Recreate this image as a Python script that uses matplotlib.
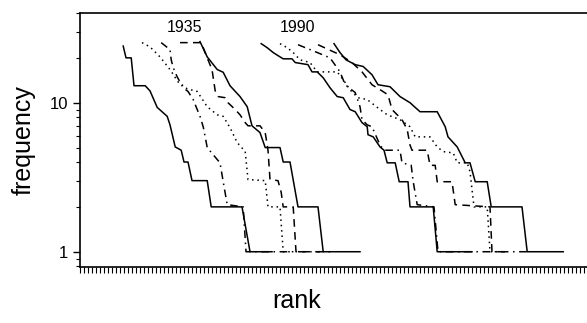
import matplotlib.pyplot as plt
from matplotlib.ticker import MultipleLocator, NullFormatter, NullLocator

plt.rcParams["font.family"] = ["Liberation Sans", "DejaVu Sans"]

# 1935 group: rank vs frequency
rank_35_solid_a = [10.8, 11.5, 12.8, 13.5, 16.3, 17.5, 19.3, 21.8, 22.5, 23.8, 25.3, 26, 27, 28, 31.8, 32.8, 40.5, 42.5, 48]
freq_35_solid_a = [24, 20, 20, 13, 13, 12, 9.3, 8.1, 7.1, 5.05, 4.8, 4, 4, 3, 3, 2, 2, 1, 1]

rank_35_dot = [15.5, 17.5, 20, 22.5, 24.5, 26.8, 29.3, 31.8, 34.3, 35.8, 37.5, 39.3, 41.3, 42, 46.3, 47, 50, 50.8, 52.5]
freq_35_dot = [25.3, 23.7, 20.3, 16.7, 13.8, 12.4, 11.9, 9.4, 8.3, 8.1, 6.8, 5.4, 4.7, 3.05, 3, 2, 2, 1, 1]

rank_35_dashdot = [20.3, 22.5, 22.8, 23.3, 24.3, 25.8, 27, 28.3, 29.3, 30, 30.8, 31.3, 31.8, 35, 35.8, 36.8, 40.8, 41.5, 62.5]
freq_35_dashdot = [25.3, 22.7, 19.4, 17.2, 14.9, 12.6, 11.9, 10.5, 9, 8.1, 6.9, 5.9, 5, 3.95, 2.95, 2.07, 2, 1, 1]

rank_35_dash = [25, 30.3, 32, 33, 33.8, 34.5, 36.3, 37, 38.8, 40, 41.3, 42, 45, 46.3, 47, 47.5, 49.5, 50.3, 50.8, 53.3, 54, 60]
freq_35_dash = [25.3, 25.3, 19.4, 16.7, 12, 11, 10.8, 10, 9, 8.3, 7.35, 7, 7, 6.3, 4.8, 3.05, 3, 2.5, 2, 2, 1, 1]

rank_35_solid_b = [30, 31.8, 34.3, 35.8, 37.5, 40, 41.8, 43, 45, 46.3, 50, 50.8, 52.5, 54.5, 59.5, 60.8, 70]
freq_35_solid_b = [25.7, 20.3, 16.7, 16, 13, 11, 9.4, 7, 6.3, 5, 5, 4, 4, 2, 2, 1, 1]

# 1990 group
rank_90_solid_a = [45.3, 46.8, 48.3, 50, 50.8, 53, 53.8, 57, 58, 59.3, 60.8, 62.5, 64.3, 65.8, 67.5, 68.8, 70.5, 71.8,
                   72, 73.3, 75, 76, 76.8, 78.8, 79.8, 82, 82.5, 88.3, 89.3, 98]
freq_90_solid_a = [24.9, 23.4, 21.7, 20.3, 19.7, 19.7, 18.6, 18, 16.1, 16.1, 14.7, 12.6, 11, 10.8, 9, 8.7, 7.35, 6.9,
                   6.1, 5.9, 5.05, 4.8, 3.95, 3.95, 2.95, 2.95, 2, 2, 1, 1]

rank_90_dot = [50, 51.8, 53.3, 55, 57.5, 59.3, 64.3, 65.8, 67.5, 69.5, 71.8, 75, 76.8, 80, 82.5, 83.8, 87.5, 89.3,
               90.8, 93.3, 94.3, 96.8, 97.5, 98.5, 101.8, 102.5, 105]
freq_90_dot = [24.9, 23.4, 21.7, 19.4, 18.6, 16.1, 16.1, 14.3, 12.2, 10.8, 10.5, 9, 8.3, 7.7, 6.9, 5.9, 5.9, 5.05,
               4.7, 4.6, 3.95, 3.95, 3.45, 2, 2, 1, 1]

rank_90_dashdot = [54.5, 58.8, 62.5, 65, 66.3, 68.8, 70, 70.5, 71.8, 73, 75, 76, 80, 80.5, 82.8, 83.3, 84.3, 88.5, 89.5, 111.8]
freq_90_dashdot = [24.5, 22, 20, 16.1, 13.2, 11.7, 9.4, 7.7, 7.1, 6.9, 5.2, 4.8, 4.8, 3.95, 3.8, 2.95, 2.07, 2, 1, 1]

rank_90_dash = [59.5, 63.3, 65, 68, 70.5, 73, 75.5, 77, 78, 80.5, 81.8, 82.5, 83, 86.8, 87.5, 88.8, 89.3, 93, 93.8,
                102.5, 103, 106.3]
freq_90_dash = [24.5, 22, 21, 18.6, 16.1, 13.2, 12, 11.3, 9, 7.7, 6.6, 5.2, 4.8, 4.8, 3.8, 3.8, 2.95, 2.95, 2.07,
                2, 1, 1]

rank_90_solid_b = [63.5, 65, 66.5, 68.8, 70.8, 73, 74.5, 77.5, 80, 82.5, 85, 89.3, 91.3, 92, 94.3, 96.3, 97.5, 98.8,
                   101.8, 102.8, 110.5, 111.8, 120.8]
freq_90_solid_b = [24.9, 21.7, 19.4, 18, 17.5, 15.4, 13.2, 12.8, 11, 10, 8.7, 8.7, 6.9, 5.9, 5.05, 3.95, 3.95, 2.95,
                   2.95, 2, 2, 1, 1]

year_labels = ["1935", "1990"]
year_label_rank = [26, 54.3]

fig = plt.figure(figsize=(5.87, 3.23), dpi=100)
ax = fig.add_axes([0.1363, 0.1734, 0.8637, 0.7864])

lw = 1.1
ax.plot(rank_35_solid_a, freq_35_solid_a, color="black", lw=lw, ls="-")
ax.plot(rank_35_dot, freq_35_dot, color="black", lw=lw, ls=(0, (1, 2.5)))
ax.plot(rank_35_dashdot, freq_35_dashdot, color="black", lw=lw, ls=(0, (5, 3, 1, 3)))
ax.plot(rank_35_dash, freq_35_dash, color="black", lw=lw, ls=(0, (5, 3.5)))
ax.plot(rank_35_solid_b, freq_35_solid_b, color="black", lw=lw, ls="-")

ax.plot(rank_90_solid_a, freq_90_solid_a, color="black", lw=lw, ls="-")
ax.plot(rank_90_dot, freq_90_dot, color="black", lw=lw, ls=(0, (1, 2.5)))
ax.plot(rank_90_dashdot, freq_90_dashdot, color="black", lw=lw, ls=(0, (5, 3, 1, 3)))
ax.plot(rank_90_dash, freq_90_dash, color="black", lw=lw, ls=(0, (5, 3.5)))
ax.plot(rank_90_solid_b, freq_90_solid_b, color="black", lw=lw, ls="-")

for lab, r in zip(year_labels, year_label_rank):
    ax.text(r, 32, lab, ha="center", va="center", fontsize=11.5)

ax.set_yscale("log")
ax.set_ylim(0.79, 40)
ax.set_xlim(0, 126.75)

ax.spines["right"].set_visible(False)
for s in ["left", "bottom", "top"]:
    ax.spines[s].set_linewidth(1.2)

ax.set_yticks([1, 10])
ax.set_yticklabels(["1", "10"], fontsize=12)
ax.yaxis.set_minor_formatter(NullFormatter())
ax.tick_params(axis="y", which="major", direction="out", length=5, width=1)
ax.tick_params(axis="y", which="minor", direction="out", length=3, width=0.8)

ax.xaxis.set_major_locator(NullLocator())
ax.xaxis.set_minor_locator(MultipleLocator(1))
ax.tick_params(axis="x", which="minor", direction="out", length=4, width=0.8)

ax.set_ylabel("frequency", fontsize=18, labelpad=10)
ax.set_xlabel("rank", fontsize=18)
ax.xaxis.set_label_coords(0.428, -0.085)

fig.savefig("out.png", dpi=100)
